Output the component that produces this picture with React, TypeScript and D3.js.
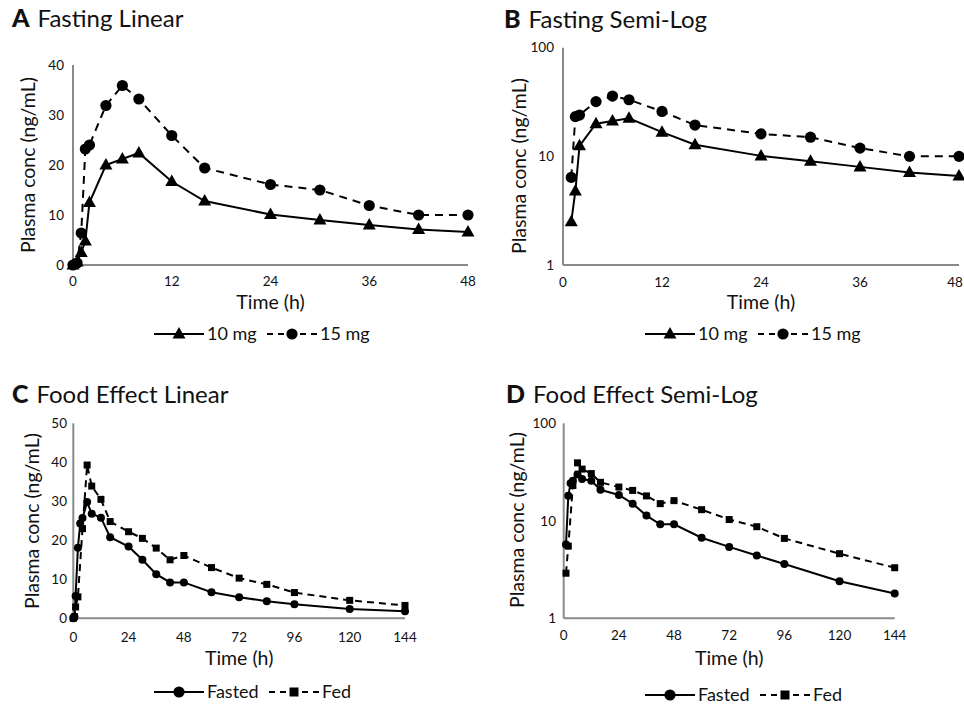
import React from "react";
import * as d3 from "d3";

// Fasting study (A, B)
const fastTimes = [0, 0.5, 1, 1.5, 2, 4, 6, 8, 12, 16, 24, 30, 36, 42, 48];
const dose10 = [0, 0.6, 2.5, 4.8, 12.5, 20.0, 21.2, 22.4, 16.7, 12.8, 10.1, 9.0, 8.0, 7.1, 6.6];
const dose15 = [0, 0.4, 6.4, 23.2, 24.0, 31.9, 35.9, 33.2, 25.9, 19.4, 16.1, 15.0, 11.9, 10.0, 10.0];

// Food effect study (C, D)
const fastedTimes = [0, 0.5, 1, 2, 3, 4, 6, 8, 12, 16, 24, 30, 36, 42, 48, 60, 72, 84, 96, 120, 144];
const fasted = [0, 0.4, 5.7, 18.1, 24.3, 25.7, 29.8, 26.8, 25.8, 20.8, 18.4, 15.0, 11.3, 9.2, 9.2, 6.7, 5.4, 4.4, 3.6, 2.4, 1.8];
const fedTimes = [0, 0.5, 1, 2, 4, 6, 8, 12, 16, 24, 30, 36, 42, 48, 60, 72, 84, 96, 120, 144];
const fed = [0, 0.4, 2.9, 5.5, 23.0, 39.3, 33.9, 30.5, 24.8, 22.2, 20.5, 18.0, 15.0, 16.1, 13.0, 10.3, 8.7, 6.6, 4.6, 3.3];

const ticks48 = [0, 12, 24, 36, 48];
const ticks144 = [0, 24, 48, 72, 96, 120, 144];
const linTicks40 = [0, 10, 20, 30, 40];
const linTicks50 = [0, 10, 20, 30, 40, 50];
const logTicks = [1, 10, 100];

const FONT = "Lato, 'Open Sans', sans-serif";
const W = 964;
const H = 704;

// approximate rendered widths of the legend labels
const legendTextW: Record<string, number> = { "10 mg": 48, "15 mg": 48, Fasted: 50, Fed: 28 };

type Series = {
  name: string;
  t: number[];
  v: number[];
  marker: "triangle" | "circle" | "square";
  dashed: boolean;
};

const fastingSeries: Series[] = [
  { name: "10 mg", t: fastTimes, v: dose10, marker: "triangle", dashed: false },
  { name: "15 mg", t: fastTimes, v: dose15, marker: "circle", dashed: true },
];
const foodSeries: Series[] = [
  { name: "Fasted", t: fastedTimes, v: fasted, marker: "circle", dashed: false },
  { name: "Fed", t: fedTimes, v: fed, marker: "square", dashed: true },
];

function Marker({ type, x, y, big }: { type: string; x: number; y: number; big: boolean }) {
  if (type === "triangle") {
    const s = big ? 1 : 0.8;
    return <path d={`M${x},${y - 7 * s}L${x + 6.5 * s},${y + 4.5 * s}L${x - 6.5 * s},${y + 4.5 * s}Z`} fill="#000" />;
  }
  if (type === "circle") return <circle cx={x} cy={y} r={big ? 5.6 : 4} fill="#000" />;
  const h = big ? 4.5 : 3.5;
  return <rect x={x - h} y={y - h} width={h * 2} height={h * 2} fill="#000" />;
}

type PanelProps = {
  letter: string;
  title: string;
  titleX: number;
  titleY: number;
  box: [number, number, number, number]; // left, right, top, bottom
  xMax: number;
  xTicks: number[];
  log: boolean;
  yDomain: [number, number];
  yTicks: number[];
  yTickRight: number;
  yLabelX: number;
  yLabelY: number;
  xTickY: number;
  xLabelY: number;
  series: Series[];
  legendX: number;
  legendY: number;
  bigMarkers: boolean;
  dash: string;
};

function Panel(p: PanelProps) {
  const [l, r, t, b] = p.box;
  const x = d3.scaleLinear().domain([0, p.xMax]).range([l, r]);
  const y = p.log
    ? d3.scaleLog().domain(p.yDomain).range([b, t])
    : d3.scaleLinear().domain(p.yDomain).range([b, t]);

  // legend layout
  let lx = p.legendX;
  const legendItems = p.series.map((s) => {
    const x0 = lx;
    const lineW = 50;
    const textX = x0 + lineW + 3;
    lx = textX + legendTextW[s.name] + 12;
    return { s, x0, x1: x0 + lineW, textX };
  });

  return (
    <g>
      <text x={p.titleX} y={p.titleY} fontFamily={FONT} fontSize={24} fill="#111">
        <tspan fontWeight={900} fontSize={25}>{p.letter}</tspan>
        <tspan dx={8}>{p.title}</tspan>
      </text>
      {/* axes */}
      <line x1={l} x2={l} y1={t} y2={b} stroke="#8a8a8a" strokeWidth={2} />
      <line x1={l} x2={r} y1={b} y2={b} stroke="#8a8a8a" strokeWidth={2} />
      {p.yTicks.map((v) => (
        <text key={v} x={p.yTickRight} y={y(v)} dy="0.35em" textAnchor="end" fontFamily={FONT} fontSize={13.5} fill="#111">
          {String(v)}
        </text>
      ))}
      {p.xTicks.map((v) => {
        const half = String(v).length * 4;
        return (
          <text
            key={v}
            x={Math.min(x(v), W - half - 1)}
            y={p.xTickY}
            dy="0.35em"
            textAnchor="middle"
            fontFamily={FONT}
            fontSize={13.5}
            fill="#111"
          >
            {String(v)}
          </text>
        );
      })}
      <text x={(l + r) / 2} y={p.xLabelY} dy="0.35em" textAnchor="middle" fontFamily={FONT} fontSize={19.5} fill="#111">
        Time (h)
      </text>
      <text
        transform={`translate(${p.yLabelX},${p.yLabelY}) rotate(-90)`}
        dy="0.35em"
        textAnchor="middle"
        fontFamily={FONT}
        fontSize={19.5}
        fill="#111"
      >
        Plasma conc (ng/mL)
      </text>
      {/* series; points below 1 are left off the log plots */}
      {p.series.map((s) => {
        const pts = s.t
          .map((tt, i) => [tt, s.v[i]] as [number, number])
          .filter((d) => !p.log || d[1] >= 1);
        const line = d3
          .line<[number, number]>()
          .x((d) => x(d[0]))
          .y((d) => y(d[1]));
        return (
          <g key={s.name}>
            <path
              d={line(pts) || ""}
              fill="none"
              stroke="#000"
              strokeWidth={2}
              strokeDasharray={s.dashed ? p.dash : undefined}
            />
            {pts.map((d, i) => (
              <Marker key={i} type={s.marker} x={x(d[0])} y={y(d[1])} big={p.bigMarkers} />
            ))}
          </g>
        );
      })}
      {/* legend */}
      {legendItems.map(({ s, x0, x1, textX }) => (
        <g key={s.name}>
          <line
            x1={x0}
            x2={x1}
            y1={p.legendY}
            y2={p.legendY}
            stroke="#000"
            strokeWidth={2}
            strokeDasharray={s.dashed ? "6,5" : undefined}
          />
          <Marker type={s.marker} x={(x0 + x1) / 2} y={p.legendY} big={true} />
          <text x={textX} y={p.legendY} dy="0.35em" fontFamily={FONT} fontSize={18} fill="#111">
            {s.name}
          </text>
        </g>
      ))}
    </g>
  );
}

export default function App() {
  return (
    <svg width={W} height={H} style={{ position: "absolute", left: 0, top: 0, background: "#fff" }}>
      <rect width={W} height={H} fill="#fff" />
      <Panel
        letter="A"
        title="Fasting Linear"
        titleX={12}
        titleY={27}
        box={[73, 468, 65, 265]}
        xMax={48}
        xTicks={ticks48}
        log={false}
        yDomain={[0, 40]}
        yTicks={linTicks40}
        yTickRight={64}
        yLabelX={28}
        yLabelY={165}
        xTickY={281}
        xLabelY={302}
        series={fastingSeries}
        legendX={154}
        legendY={334}
        bigMarkers={true}
        dash="8,6"
      />
      <Panel
        letter="B"
        title="Fasting Semi-Log"
        titleX={504}
        titleY={28}
        box={[563, 959, 47.7, 265]}
        xMax={48}
        xTicks={ticks48}
        log={true}
        yDomain={[1, 100]}
        yTicks={logTicks}
        yTickRight={554}
        yLabelX={519}
        yLabelY={166}
        xTickY={282}
        xLabelY={302}
        series={fastingSeries}
        legendX={645}
        legendY={334}
        bigMarkers={true}
        dash="8,6"
      />
      <Panel
        letter="C"
        title="Food Effect Linear"
        titleX={12}
        titleY={403}
        box={[73.3, 405, 423.3, 618.3]}
        xMax={144}
        xTicks={ticks144}
        log={false}
        yDomain={[0, 50]}
        yTicks={linTicks50}
        yTickRight={67}
        yLabelX={32}
        yLabelY={521}
        xTickY={637}
        xLabelY={658}
        series={foodSeries}
        legendX={154}
        legendY={692}
        bigMarkers={false}
        dash="7,5"
      />
      <Panel
        letter="D"
        title="Food Effect Semi-Log"
        titleX={506}
        titleY={403}
        box={[563.7, 894.7, 423.3, 618.3]}
        xMax={144}
        xTicks={ticks144}
        log={true}
        yDomain={[1, 100]}
        yTicks={logTicks}
        yTickRight={556}
        yLabelX={517}
        yLabelY={520}
        xTickY={635}
        xLabelY={658}
        series={foodSeries}
        legendX={645}
        legendY={695}
        bigMarkers={false}
        dash="7,5"
      />
    </svg>
  );
}
